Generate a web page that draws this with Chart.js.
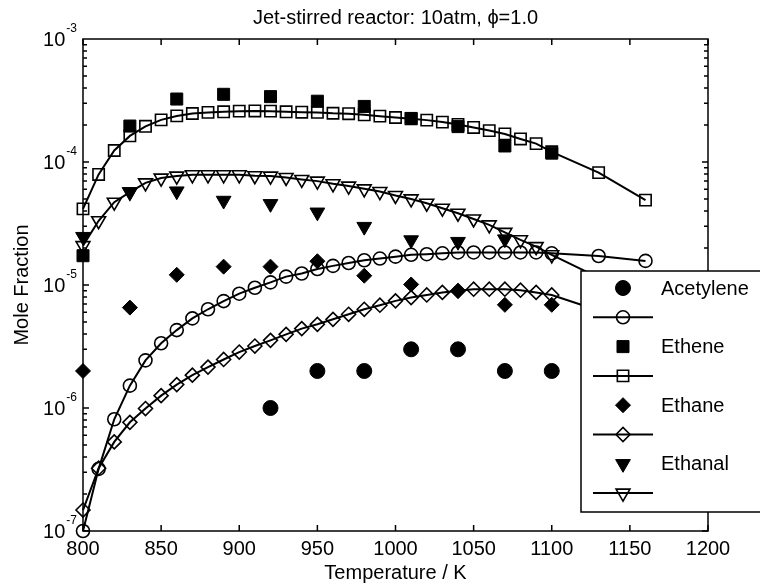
<!DOCTYPE html>
<html>
<head>
<meta charset="utf-8">
<script src="https://cdn.jsdelivr.net/npm/chart.js@4.4.1/dist/chart.umd.min.js"></script>
<style>
  html, body { margin: 0; padding: 0; background: #fff; }
  #wrap { width: 760px; height: 587px; }
</style>
</head>
<body>
<div id="wrap"><canvas id="chart" width="760" height="587"></canvas></div>
<script>
const FONT = '"Liberation Sans", Arial, Helvetica, sans-serif';
const TITLE = 'Jet-stirred reactor: 10atm, \u03D5=1.0';

// temperatures (K)
const T_EXP = [800, 830, 860, 890, 920, 950, 980, 1010, 1040, 1070, 1100];
const T_MODEL = [800, 810, 820, 830, 840, 850, 860, 870, 880, 890, 900,
                 910, 920, 930, 940, 950, 960, 970, 980, 990, 1000,
                 1010, 1020, 1030, 1040, 1050, 1060, 1070, 1080, 1090, 1100,
                 1130, 1160];

// measured mole fractions
const acetyleneExp = [null, null, null, null, 1.0e-6, 2.0e-6, 2.0e-6, 3.0e-6, 3.0e-6, 2.0e-6, 2.0e-6];
const etheneExp    = [1.73e-5, 1.96e-4, 3.25e-4, 3.55e-4, 3.4e-4, 3.12e-4, 2.83e-4, 2.26e-4, 1.94e-4, 1.35e-4, 1.18e-4];
const ethaneExp    = [2.0e-6, 6.55e-6, 1.21e-5, 1.41e-5, 1.41e-5, 1.56e-5, 1.19e-5, 1.01e-5, 8.95e-6, 6.9e-6, 6.9e-6];
const ethanalExp   = [2.47e-5, 5.71e-5, 5.79e-5, 4.86e-5, 4.57e-5, 3.9e-5, 2.98e-5, 2.32e-5, 2.25e-5, 2.36e-5, null];

// model predictions
const acetyleneModel = [1.0e-7, 3.2e-7, 8.1e-7, 1.52e-6, 2.44e-6, 3.36e-6, 4.3e-6, 5.35e-6, 6.35e-6, 7.4e-6, 8.5e-6,
                        9.5e-6, 1.05e-5, 1.17e-5, 1.24e-5, 1.35e-5, 1.43e-5, 1.51e-5, 1.59e-5, 1.64e-5, 1.70e-5,
                        1.76e-5, 1.78e-5, 1.81e-5, 1.84e-5, 1.84e-5, 1.84e-5, 1.84e-5, 1.84e-5, 1.84e-5, 1.81e-5,
                        1.72e-5, 1.57e-5];
const etheneModel = [4.16e-5, 7.92e-5, 1.24e-4, 1.63e-4, 1.95e-4, 2.2e-4, 2.37e-4, 2.48e-4, 2.53e-4, 2.56e-4, 2.59e-4,
                     2.6e-4, 2.59e-4, 2.56e-4, 2.54e-4, 2.53e-4, 2.49e-4, 2.47e-4, 2.42e-4, 2.36e-4, 2.3e-4,
                     2.25e-4, 2.19e-4, 2.11e-4, 2.02e-4, 1.91e-4, 1.8e-4, 1.69e-4, 1.54e-4, 1.41e-4, 1.21e-4,
                     8.2e-5, 4.9e-5];
const ethaneModel = [1.48e-7, 3.24e-7, 5.3e-7, 7.65e-7, 9.9e-7, 1.26e-6, 1.55e-6, 1.85e-6, 2.15e-6, 2.48e-6, 2.85e-6,
                     3.19e-6, 3.55e-6, 3.97e-6, 4.42e-6, 4.79e-6, 5.26e-6, 5.78e-6, 6.35e-6, 6.85e-6, 7.43e-6,
                     7.9e-6, 8.3e-6, 8.7e-6, 8.96e-6, 9.24e-6, 9.24e-6, 9.24e-6, 9.07e-6, 8.7e-6, 8.3e-6,
                     6.2e-6, 4.5e-6];
const ethanalModel = [2.09e-5, 3.33e-5, 4.71e-5, 5.69e-5, 6.77e-5, 7.4e-5, 7.68e-5, 7.87e-5, 7.87e-5, 7.87e-5, 7.87e-5,
                      7.73e-5, 7.68e-5, 7.48e-5, 7.21e-5, 6.99e-5, 6.65e-5, 6.37e-5, 6.05e-5, 5.75e-5, 5.34e-5,
                      5.01e-5, 4.62e-5, 4.21e-5, 3.83e-5, 3.44e-5, 3.08e-5, 2.68e-5, 2.33e-5, 2.05e-5, 1.76e-5,
                      1.15e-5, 7.0e-6];

// axis ticks
const X_TICKS = [800, 850, 900, 950, 1000, 1050, 1100, 1150, 1200];
const Y_DECADES = [1e-7, 1e-6, 1e-5, 1e-4, 1e-3];
const Y_EXPONENTS = ['-7', '-6', '-5', '-4', '-3'];

// legend box layout (pixels)
const LEG = { left: 581, top: 271, right: 775, bottom: 512, firstRow: 288, rowGap: 29.3,
              markerX: 623, lineX0: 593, lineX1: 653, textX: 661 };

function pairs(xs, ys) {
    return xs.map((x, i) => ({ x: x, y: ys[i] }));
}

function expSet(label, ys, style, radius, rotation) {
    return {
        label: label,
        data: pairs(T_EXP, ys),
        showLine: false,
        pointStyle: style,
        pointRotation: rotation || 0,
        pointRadius: radius,
        pointHoverRadius: radius,
        pointBackgroundColor: '#000',
        pointBorderColor: '#000',
        pointBorderWidth: 1,
        clip: false
    };
}

function modelSet(ys, style, radius, rotation) {
    return {
        label: '',
        data: pairs(T_MODEL, ys),
        showLine: true,
        borderColor: '#000',
        borderWidth: 2,
        pointStyle: style,
        pointRotation: rotation || 0,
        pointRadius: radius,
        pointHoverRadius: radius,
        pointBackgroundColor: 'rgba(0,0,0,0)',
        pointBorderColor: '#000',
        pointBorderWidth: 1.6,
        clip: false
    };
}

// box, inward ticks, 10^n labels and the title centred over the plot
const framePlugin = {
    id: 'frame',
    beforeDatasetsDraw(chart) {
        const { ctx, chartArea: a, scales: { x, y } } = chart;
        ctx.save();
        ctx.strokeStyle = '#000';
        ctx.lineWidth = 1.5;
        ctx.strokeRect(a.left, a.top, a.right - a.left, a.bottom - a.top);
        ctx.beginPath();
        X_TICKS.forEach(v => {
            const px = x.getPixelForValue(v);
            ctx.moveTo(px, a.bottom); ctx.lineTo(px, a.bottom - 6);
            ctx.moveTo(px, a.top); ctx.lineTo(px, a.top + 6);
        });
        for (let d = 0; d < Y_DECADES.length - 1; d++) {
            for (let m = 1; m <= 9; m++) {
                const py = y.getPixelForValue(Y_DECADES[d] * m);
                const len = m === 1 ? 6 : 4;
                ctx.moveTo(a.left, py); ctx.lineTo(a.left + len, py);
                ctx.moveTo(a.right, py); ctx.lineTo(a.right - len, py);
            }
        }
        ctx.stroke();

        ctx.fillStyle = '#000';
        ctx.textAlign = 'right';
        ctx.textBaseline = 'alphabetic';
        Y_DECADES.forEach((v, i) => {
            const py = y.getPixelForValue(v);
            const xr = a.left - 6;
            ctx.font = '12px ' + FONT;
            const sw = ctx.measureText(Y_EXPONENTS[i]).width;
            ctx.fillText(Y_EXPONENTS[i], xr, py - 7);
            ctx.font = '20px ' + FONT;
            ctx.fillText('10', xr - sw - 1, py + 7);
        });

        ctx.textAlign = 'center';
        ctx.textBaseline = 'middle';
        ctx.font = '20px ' + FONT;
        ctx.fillText(TITLE, (a.left + a.right) / 2, 18);
        ctx.restore();
    }
};

// legend drawn as a white box over the plot
const legendPlugin = {
    id: 'boxLegend',
    afterDatasetsDraw(chart) {
        const ctx = chart.ctx;
        ctx.save();
        ctx.fillStyle = '#fff';
        ctx.fillRect(LEG.left, LEG.top, LEG.right - LEG.left, LEG.bottom - LEG.top);
        ctx.strokeStyle = '#000';
        ctx.lineWidth = 1.5;
        ctx.strokeRect(LEG.left, LEG.top, LEG.right - LEG.left, LEG.bottom - LEG.top);

        ctx.font = '20px ' + FONT;
        ctx.textAlign = 'left';
        ctx.textBaseline = 'middle';
        chart.data.datasets.forEach((ds, i) => {
            const yy = LEG.firstRow + i * LEG.rowGap;
            if (ds.showLine) {
                ctx.strokeStyle = ds.borderColor;
                ctx.lineWidth = ds.borderWidth;
                ctx.beginPath();
                ctx.moveTo(LEG.lineX0, yy);
                ctx.lineTo(LEG.lineX1, yy);
                ctx.stroke();
            }
            ctx.fillStyle = ds.pointBackgroundColor;
            ctx.strokeStyle = ds.pointBorderColor;
            ctx.lineWidth = ds.pointBorderWidth;
            Chart.helpers.drawPoint(ctx, {
                pointStyle: ds.pointStyle,
                rotation: ds.pointRotation,
                radius: ds.pointRadius,
                borderWidth: ds.pointBorderWidth
            }, LEG.markerX, yy);
            if (ds.label) {
                ctx.fillStyle = '#000';
                ctx.fillText(ds.label, LEG.textX, yy + 1);
            }
        });
        ctx.restore();
    }
};

const chart = new Chart(document.getElementById('chart'), {
    type: 'scatter',
    data: {
        datasets: [
            expSet('Acetylene', acetyleneExp, 'circle', 7.5),
            modelSet(acetyleneModel, 'circle', 6.5),
            expSet('Ethene', etheneExp, 'rect', 8.5),
            modelSet(etheneModel, 'rect', 8),
            expSet('Ethane', ethaneExp, 'rectRot', 7.5),
            modelSet(ethaneModel, 'rectRot', 7),
            expSet('Ethanal', ethanalExp, 'triangle', 8.5, 180),
            modelSet(ethanalModel, 'triangle', 8, 180)
        ]
    },
    options: {
        responsive: false,
        animation: false,
        devicePixelRatio: 1,
        layout: { padding: { left: 0, right: 52, top: 39, bottom: 0 }, autoPadding: false },
        plugins: {
            legend: { display: false },
            tooltip: { enabled: false },
            title: { display: false }
        },
        scales: {
            x: {
                type: 'linear',
                min: 800,
                max: 1200,
                grid: { display: false, drawTicks: false },
                border: { display: false },
                ticks: {
                    stepSize: 50,
                    autoSkip: false,
                    maxRotation: 0,
                    padding: 6,
                    color: '#000',
                    font: { family: FONT, size: 20 },
                    callback: v => String(v)
                },
                title: {
                    display: true,
                    text: 'Temperature / K',
                    color: '#000',
                    font: { family: FONT, size: 20 },
                    padding: { top: 0, bottom: 2 }
                },
                afterFit(scale) { scale.height = 56; }
            },
            y: {
                type: 'logarithmic',
                min: 1e-7,
                max: 1e-3,
                grid: { display: false, drawTicks: false },
                border: { display: false },
                ticks: { display: false },
                title: {
                    display: true,
                    text: 'Mole Fraction',
                    color: '#000',
                    font: { family: FONT, size: 20 },
                    padding: { top: 10, bottom: 0 }
                },
                afterFit(scale) { scale.width = 83; }
            }
        }
    },
    plugins: [framePlugin, legendPlugin]
});
</script>
</body>
</html>
